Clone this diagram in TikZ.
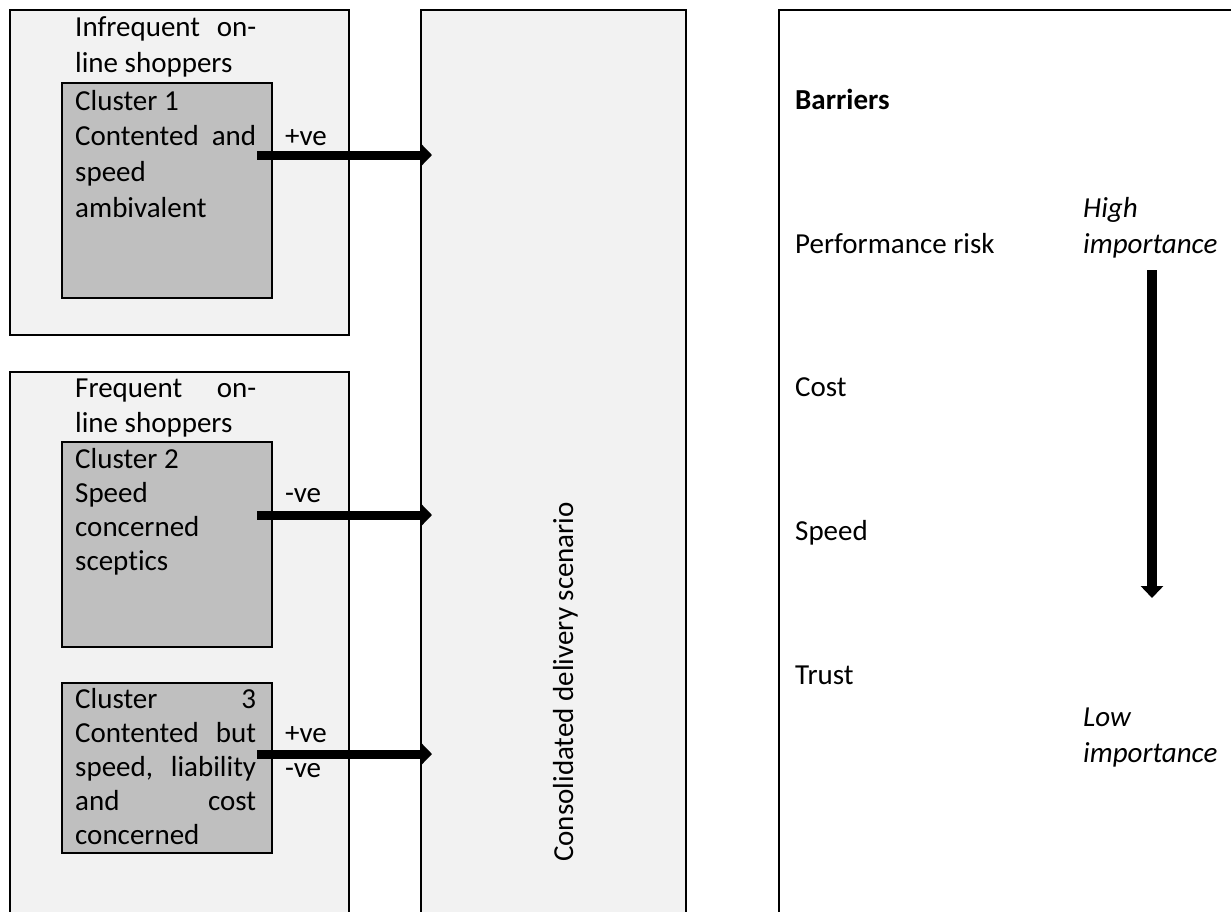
\documentclass[tikz,border=0pt]{standalone}
\usepackage{fontspec}
\setmainfont[Ligatures=NoCommon]{Carlito}
\usetikzlibrary{arrows.meta}
\definecolor{lightpanel}{HTML}{F2F2F2}
\definecolor{clusterfill}{HTML}{BFBFBF}
\newcommand{\jline}[1]{\makebox[181pt][s]{#1}}
\newcommand{\blocktext}[2][35]{\parbox[t]{181pt}{\fontsize{29}{#1}\selectfont #2}}
\begin{document}
\begin{tikzpicture}[x=1pt,y=-1pt,
  panel/.style={draw=black, line width=2.2pt, fill=lightpanel, rectangle, inner sep=0pt, anchor=north west},
  clusterbox/.style={draw=black, line width=2.2pt, fill=clusterfill, rectangle, inner sep=0pt, anchor=north west, minimum width=210pt},
  whitepanel/.style={draw=black, line width=2.2pt, fill=white, rectangle, inner sep=0pt, anchor=north west},
  txt/.style={anchor=base west, inner sep=0pt, font=\fontsize{29}{35}\selectfont},
  bigarrow/.style={line width=9pt, -{Triangle[width=24pt,length=12pt]}},
  downarrow/.style={line width=10.5pt, -{Triangle[width=22pt,length=12pt]}},
]
\useasboundingbox (0,0) rectangle (1231,911);
\clip (0,0) rectangle (1231,911);

% panels
\node[panel, minimum width=339pt, minimum height=325pt] (p1) at (9,9) {};
\node[panel, minimum width=339pt, minimum height=600pt] (p2) at (9,371) {};
\node[panel, minimum width=265pt, minimum height=1000pt] (mid) at (420,9) {};
\node[whitepanel, minimum width=600pt, minimum height=1000pt] (right) at (778,9) {};

% cluster boxes
\node[clusterbox, minimum height=215pt] (c1) at (61,82) {};
\node[clusterbox, minimum height=205pt] (c2) at (61,441) {};
\node[clusterbox, minimum height=170pt] (c3) at (61,682) {};

% texts left
\node[txt] (h1) at (75,36) {\blocktext[36]{\jline{Infrequent on-}\\line shoppers}};
\node[txt] (t1) at (75,110) {\blocktext[35.7]{Cluster 1\\\jline{Contented and}\\speed\\ambivalent}};
\node[txt] (h2) at (75,397) {\blocktext{\jline{Frequent on-}\\line shoppers}};
\node[txt] (t2) at (75,468) {\blocktext[34]{Cluster 2\\Speed\\concerned\\sceptics}};
\node[txt] (t3) at (75,708) {\blocktext[34]{\jline{Cluster 3}\\\jline{Contented but}\\\jline{speed, liability}\\\jline{and cost}\\concerned}};

% arrow labels
\node[txt] (l1) at (285,145) {+ve};
\node[txt] (l2) at (285,502) {-ve};
\node[txt] (l3a) at (285,742) {+ve};
\node[txt] (l3b) at (285,777) {-ve};

% middle vertical text
\node[txt, rotate=90] (scen) at (573,862) {Consolidated delivery scenario};

% right texts
\node[txt] (bar) at (795,109) {\bfseries Barriers};
\node[txt] (perf) at (795,253) {Performance risk};
\node[txt] (cost) at (795,396) {Cost};
\node[txt] (speed) at (795,540) {Speed};
\node[txt] (trust) at (795,684) {Trust};
\node[txt] (high) at (1083,217) {\parbox[t]{150pt}{\fontsize{29}{36}\selectfont\itshape High\\importance}};
\node[txt] (low) at (1083,726) {\parbox[t]{150pt}{\fontsize{29}{36}\selectfont\itshape Low\\importance}};

% arrow endpoints
\coordinate (s1) at (257,155);
\coordinate (e1) at (432,155);
\coordinate (s2) at (257,515);
\coordinate (e2) at (432,515);
\coordinate (s3) at (257,754);
\coordinate (e3) at (432,754);
\coordinate (ha) at (1152,270);
\coordinate (la) at (1152,598);

\draw[bigarrow] (s1) -- (e1);
\draw[bigarrow] (s2) -- (e2);
\draw[bigarrow] (s3) -- (e3);
\draw[downarrow] (ha) -- (la);
\end{tikzpicture}
\end{document}
